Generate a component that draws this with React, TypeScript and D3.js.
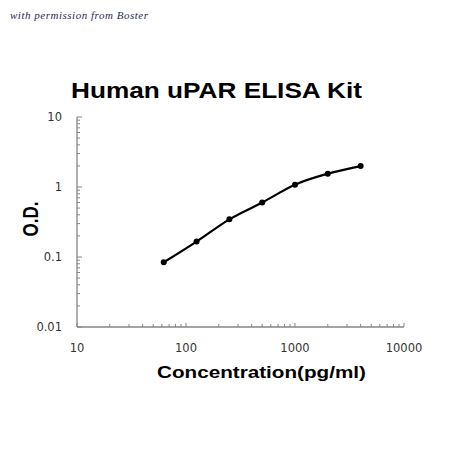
import React from 'react';
import * as d3 from 'd3';

// standard curve data
const concentrations = [62.5, 125, 250, 500, 1000, 2000, 4000];
const odValues = [0.084, 0.166, 0.345, 0.6, 1.08, 1.55, 1.99];

const xTicks = [10, 100, 1000, 10000];
const yTicks = [0.01, 0.1, 1, 10];
const yTickLabels = ['0.01', '0.1', '1', '10'];

const title = 'Human uPAR ELISA Kit';
const xTitle = 'Concentration(pg/ml)';
const yTitle = 'O.D.';
const note = 'with permission from Boster';

const axisColor = '#868686';

// minor ticks 2..9 in each decade
const minorTicks = (domain: number[]) => {
  const out: number[] = [];
  for (let d = domain[0]; d < domain[1]; d *= 10) {
    for (let k = 2; k <= 9; k++) out.push(d * k);
  }
  return out;
};

const App: React.FC = () => {
  const width = 450;
  const height = 450;

  const x = d3.scaleLog().domain([10, 10000]).range([77, 404]);
  const y = d3.scaleLog().domain([0.01, 10]).range([327, 117]);

  const points = concentrations.map((c, i) => [x(c), y(odValues[i])] as [number, number]);
  const line = d3.line().curve(d3.curveCatmullRom.alpha(0.5))(points) || '';

  const x0 = x(10);
  const y0 = y(0.01);

  return (
    <svg
      width={width}
      height={height}
      style={{ position: 'absolute', left: 0, top: 0, background: '#fff' }}
    >
      <text
        x={10}
        y={19}
        fontFamily="'Liberation Serif', serif"
        fontStyle="italic"
        fontSize={11}
        fill="#1f2a5a"
        textLength={138}
      >
        {note}
      </text>

      {/* the original picture is stretched sideways, so the titles are too */}
      <text
        x={216.5}
        y={98}
        textAnchor="middle"
        fontFamily="'Liberation Sans', Arial, sans-serif"
        fontWeight="bold"
        fontSize={22}
        fill="#000"
        textLength={291}
        lengthAdjust="spacingAndGlyphs"
      >
        {title}
      </text>

      {/* axes */}
      <line x1={x0} x2={x(10000)} y1={y0} y2={y0} stroke={axisColor} strokeWidth={1.3} />
      <line x1={x0} x2={x0} y1={y0} y2={y(10)} stroke={axisColor} strokeWidth={1.3} />

      {/* x ticks */}
      {xTicks.map(t => (
        <line key={'xt' + t} x1={x(t)} x2={x(t)} y1={y0} y2={y0 - 4} stroke={axisColor} />
      ))}
      {minorTicks([10, 10000]).map(t => (
        <line key={'xm' + t} x1={x(t)} x2={x(t)} y1={y0} y2={y0 - 3} stroke={axisColor} />
      ))}
      {xTicks.map(t => (
        <text
          key={'xl' + t}
          x={x(t)}
          y={352}
          textAnchor="middle"
          fontFamily="'DejaVu Sans', Verdana, sans-serif"
          fontSize={11.5}
          fill="#333"
        >
          {t}
        </text>
      ))}

      {/* y ticks */}
      {yTicks.map(t => (
        <line key={'yt' + t} x1={x0} x2={x0 + 5} y1={y(t)} y2={y(t)} stroke={axisColor} />
      ))}
      {minorTicks([0.01, 10]).map(t => (
        <line key={'ym' + t} x1={x0} x2={x0 + 3} y1={y(t)} y2={y(t)} stroke={axisColor} />
      ))}
      {yTicks.map((t, i) => (
        <text
          key={'yl' + t}
          x={62}
          y={y(t) + 4}
          textAnchor="end"
          fontFamily="'DejaVu Sans', Verdana, sans-serif"
          fontSize={11.5}
          fill="#333"
        >
          {yTickLabels[i]}
        </text>
      ))}

      {/* curve */}
      <path d={line} fill="none" stroke="#000" strokeWidth={2.2} />
      {points.map((p, i) => (
        <circle key={'pt' + i} cx={p[0]} cy={p[1]} r={3} fill="#000" />
      ))}

      {/* axis titles */}
      <text
        x={261.5}
        y={378}
        textAnchor="middle"
        fontFamily="'Liberation Sans', Arial, sans-serif"
        fontWeight="bold"
        fontSize={17}
        fill="#000"
        textLength={209}
        lengthAdjust="spacingAndGlyphs"
      >
        {xTitle}
      </text>
      <text
        transform="translate(38,219) rotate(-90) scale(1,1.25)"
        textAnchor="middle"
        fontFamily="'Liberation Sans', Arial, sans-serif"
        fontWeight="bold"
        fontSize={17}
        fill="#000"
      >
        {yTitle}
      </text>
    </svg>
  );
};

export default App;
